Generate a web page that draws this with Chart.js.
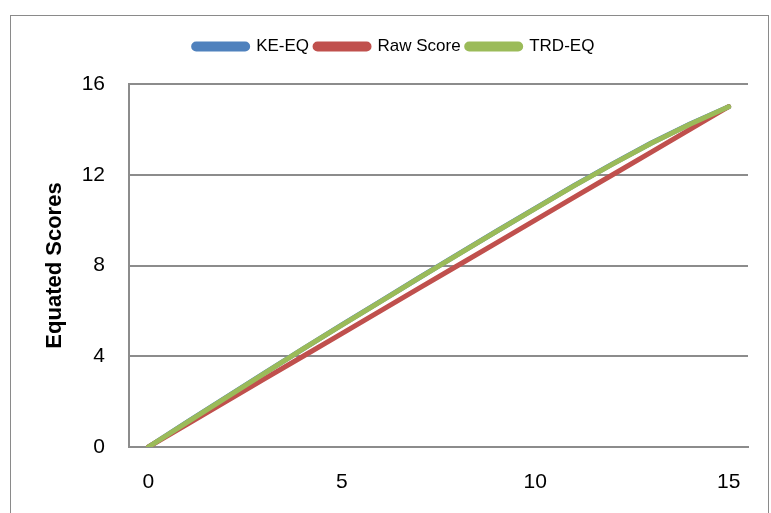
<!DOCTYPE html>
<html>
<head>
<meta charset="utf-8">
<script src="https://cdn.jsdelivr.net/npm/chart.js@4.4.0/dist/chart.umd.min.js"></script>
<style>
  html, body { margin: 0; padding: 0; background: #fff; }
  #wrap { position: relative; width: 771px; height: 513px; }
  #frame { position: absolute; left: 10px; top: 15px; width: 759px; height: 500px;
           border: 1px solid #8a8a8a; box-sizing: border-box; pointer-events: none; }
</style>
</head>
<body>
<div id="wrap">
  <canvas id="equating" width="771" height="513"></canvas>
  <div id="frame"></div>
</div>
<script>
"use strict";

// ========== DATA ========== //
// raw score points on the x axis
const rawScores = ['0', '1', '2', '3', '4', '5', '6', '7', '8', '9', '10', '11', '12', '13', '14', '15'];
// x tick labels that are shown
const shownTicks = ['0', '5', '10', '15'];
// y tick values
const yTicks = [0, 4, 8, 12, 16];

const keEq = [0, 1.10, 2.18, 3.26, 4.33, 5.38, 6.42, 7.46, 8.49, 9.51, 10.52, 11.52, 12.48, 13.40, 14.24, 15];
const rawScore = [0, 1, 2, 3, 4, 5, 6, 7, 8, 9, 10, 11, 12, 13, 14, 15];
const trdEq = [0, 1.09, 2.17, 3.25, 4.32, 5.37, 6.41, 7.45, 8.48, 9.50, 10.51, 11.51, 12.47, 13.39, 14.23, 15];

const gridGrey = '#8c8c8c';
const fontFamily = "'Liberation Sans', Arial, sans-serif";

// extra room under the legend, like the gap in the original chart
const legendGap = {
  id: 'legendGap',
  beforeInit(chart) {
    const fit = chart.legend.fit;
    chart.legend.fit = function () {
      fit.bind(chart.legend)();
      this.height += 19;
    };
  }
};

// ========== CHART ========== //
function appendEquatingChart() {
  let chartContainer = document.querySelector('#equating');
  let lineStyle = {
    fill: false,
    borderWidth: 5,
    borderCapStyle: 'round',
    borderJoinStyle: 'round',
    pointRadius: 0,
    tension: 0
  };
  let chart = new Chart(chartContainer, {
    type: 'line',
    plugins: [legendGap],
    data: {
      labels: rawScores,
      datasets: [
        // KE-EQ - blue, sits under the green line
        Object.assign({ label: 'KE-EQ', data: keEq, borderColor: '#4f81bd', backgroundColor: '#4f81bd', order: 3 }, lineStyle),
        // raw score - red
        Object.assign({ label: 'Raw Score', data: rawScore, borderColor: '#c0504d', backgroundColor: '#c0504d', order: 2 }, lineStyle),
        // TRD-EQ - green on top
        Object.assign({ label: 'TRD-EQ', data: trdEq, borderColor: '#9bbb59', backgroundColor: '#9bbb59', order: 1 }, lineStyle)
      ]
    },
    options: {
      responsive: false,
      animation: false,
      layout: { padding: { left: 40, right: 23, top: 32, bottom: 8 } },
      plugins: {
        tooltip: { enabled: false },
        legend: {
          position: 'top',
          labels: {
            boxWidth: 54,
            boxHeight: 5,
            useBorderRadius: true,
            borderRadius: 2.5,
            padding: 6,
            color: '#000',
            font: { family: fontFamily, size: 17 },
            sort: (a, b) => a.datasetIndex - b.datasetIndex
          }
        }
      },
      scales: {
        x: {
          offset: true,
          grid: { display: false, drawTicks: false },
          border: { display: true, color: gridGrey, width: 2 },
          ticks: {
            autoSkip: false,
            maxRotation: 0,
            padding: 23,
            color: '#000',
            font: { family: fontFamily, size: 21 },
            callback: function (value) {
              let label = this.getLabelForValue(value);
              return shownTicks.includes(label) ? label : '';
            }
          },
          afterFit: scale => { scale.height = 58; }
        },
        y: {
          min: yTicks[0],
          max: yTicks[yTicks.length - 1],
          afterBuildTicks: scale => { scale.ticks = yTicks.map(v => ({ value: v })); },
          grid: { color: gridGrey, lineWidth: 2, drawTicks: false },
          border: { display: true, color: gridGrey, width: 2 },
          ticks: {
            padding: 24,
            color: '#000',
            font: { family: fontFamily, size: 21 }
          },
          title: {
            display: true,
            text: 'Equated Scores',
            color: '#000',
            padding: { top: 2, bottom: 0 },
            font: { family: fontFamily, size: 22, weight: 'bold' }
          },
          afterFit: scale => { scale.width = 89; }
        }
      }
    }
  });
  return chart;
}

appendEquatingChart();
</script>
</body>
</html>
